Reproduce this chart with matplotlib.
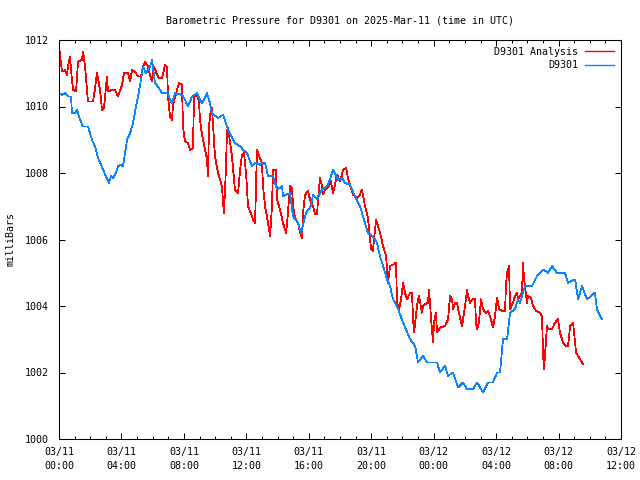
import matplotlib
matplotlib.use('Agg')
import matplotlib.pyplot as plt
from matplotlib.ticker import MultipleLocator

# hours since 2025-03-11 00:00 UTC and pressure in mb
obs_h = [0.00, 0.19, 0.38, 0.58, 0.77, 0.83, 1.02, 1.15, 1.35, 1.54, 1.86, 2.11, 2.31, 2.50, 2.82,
         3.01, 3.20, 3.33, 3.46, 3.65, 3.78, 3.97, 4.10, 4.23, 4.36, 4.55, 4.74, 4.93, 5.06, 5.25,
         5.38, 5.57, 5.70, 5.83, 5.96, 6.15, 6.34, 6.60, 6.98, 7.11, 7.24, 7.43, 7.88, 8.07, 8.26,
         8.52, 8.84, 9.16, 9.48, 9.67, 9.80, 10.19, 10.51, 10.83, 11.27, 11.60, 11.79, 12.04, 12.36,
         12.56, 12.88, 13.20, 13.39, 13.71, 13.97, 14.29, 14.35, 14.80, 14.99, 15.31, 15.50, 15.82,
         16.14, 16.27, 16.53, 16.85, 17.17, 17.36, 17.55, 17.87, 18.13, 18.32, 18.64, 18.96, 19.28,
         19.60, 19.79, 20.11, 20.37, 20.56, 20.76, 21.01, 21.20, 21.40, 21.65, 22.04, 22.49, 22.81,
         23.00, 23.32, 23.57, 24.21, 24.41, 24.73, 24.92, 25.24, 25.56, 25.88, 26.14, 26.52, 26.78,
         27.16, 27.48, 27.80, 28.06, 28.25, 28.44, 28.70, 28.89, 29.21, 29.40, 29.53, 29.85, 30.30,
         30.62, 31.01, 31.33, 31.58, 31.90, 32.41, 32.61, 33.06, 33.25, 33.50, 33.82, 34.33, 34.46,
         34.78]
obs_p = [1010.4, 1010.35, 1010.4, 1010.3, 1010.3, 1009.8, 1009.8, 1009.9, 1009.6, 1009.4, 1009.4,
         1009.0, 1008.8, 1008.45, 1008.1, 1007.9, 1007.7, 1007.9, 1007.85, 1008.0, 1008.2, 1008.25,
         1008.2, 1008.6, 1009.0, 1009.2, 1009.5, 1010.0, 1010.3, 1010.8, 1011.2, 1011.0, 1011.1,
         1011.2, 1011.4, 1010.7, 1010.6, 1010.4, 1010.4, 1010.2, 1010.1, 1010.4, 1010.35, 1010.2,
         1010.0, 1010.3, 1010.4, 1010.1, 1010.4, 1010.1, 1009.8, 1009.65, 1009.75, 1009.3, 1008.9,
         1008.8, 1008.7, 1008.6, 1008.2, 1008.3, 1008.25, 1008.3, 1007.9, 1007.9, 1007.5, 1007.6,
         1007.3, 1007.4, 1006.7, 1006.5, 1006.2, 1006.8, 1007.0, 1007.35, 1007.2, 1007.5, 1007.6,
         1007.8, 1008.1, 1007.8, 1007.85, 1007.7, 1007.65, 1007.3, 1007.0, 1006.5, 1006.2, 1006.1,
         1005.9, 1005.5, 1005.2, 1004.8, 1004.6, 1004.2, 1004.0, 1003.5, 1003.0, 1002.8, 1002.3,
         1002.5, 1002.3, 1002.3, 1002.0, 1002.2, 1001.9, 1002.0, 1001.55, 1001.7, 1001.5, 1001.5,
         1001.7, 1001.4, 1001.7, 1001.7, 1002.0, 1002.0, 1003.0, 1003.0, 1003.8, 1003.9, 1004.2,
         1004.1, 1004.6, 1004.6, 1004.9, 1005.1, 1005.0, 1005.2, 1005.0, 1005.0, 1004.7, 1004.8,
         1004.2, 1004.6, 1004.2, 1004.4, 1003.9, 1003.6]

ana_h = [0.00, 0.06, 0.19, 0.38, 0.51, 0.58, 0.70, 0.83, 0.90, 1.09, 1.22, 1.47, 1.54, 1.67, 1.79,
         1.86, 2.18, 2.31, 2.43, 2.50, 2.63, 2.75, 2.88, 2.95, 3.07, 3.14, 3.40, 3.59, 3.78, 4.04,
         4.16, 4.42, 4.55, 4.68, 4.87, 5.06, 5.25, 5.38, 5.51, 5.70, 5.83, 5.96, 6.09, 6.28, 6.41,
         6.60, 6.79, 6.92, 6.98, 7.11, 7.24, 7.30, 7.56, 7.69, 7.88, 7.94, 8.07, 8.26, 8.39, 8.58,
         8.65, 8.84, 8.97, 9.03, 9.16, 9.35, 9.48, 9.54, 9.61, 9.74, 9.80, 9.87, 9.99, 10.19, 10.44,
         10.51, 10.57, 10.70, 10.76, 10.83, 11.08, 11.27, 11.47, 11.60, 11.72, 11.85, 11.98, 12.11,
         12.24, 12.43, 12.56, 12.68, 12.75, 13.00, 13.07, 13.20, 13.39, 13.52, 13.64, 13.71, 13.90,
         13.97, 14.16, 14.35, 14.54, 14.61, 14.80, 14.93, 14.99, 15.12, 15.31, 15.44, 15.57, 15.63,
         15.76, 15.95, 16.08, 16.27, 16.40, 16.53, 16.59, 16.72, 16.85, 16.91, 17.04, 17.30, 17.42,
         17.55, 17.68, 17.81, 18.00, 18.13, 18.19, 18.39, 18.51, 18.64, 18.83, 19.09, 19.22, 19.41,
         19.60, 19.79, 19.99, 20.11, 20.18, 20.31, 20.37, 20.56, 20.76, 20.95, 21.08, 21.20, 21.40,
         21.59, 21.65, 21.78, 21.91, 22.04, 22.16, 22.29, 22.49, 22.61, 22.68, 22.74, 22.93, 23.06,
         23.25, 23.32, 23.45, 23.64, 23.70, 23.83, 23.96, 24.02, 24.15, 24.21, 24.41, 24.73, 24.92,
         25.05, 25.18, 25.24, 25.37, 25.50, 25.56, 25.69, 25.82, 25.88, 26.01, 26.14, 26.20, 26.33,
         26.46, 26.65, 26.71, 26.78, 26.90, 27.03, 27.16, 27.35, 27.48, 27.67, 27.80, 27.93, 28.06,
         28.19, 28.38, 28.57, 28.63, 28.70, 28.83, 28.89, 29.08, 29.21, 29.34, 29.40, 29.66, 29.72,
         29.79, 29.98, 30.04, 30.24, 30.36, 30.56, 30.81, 30.94, 31.01, 31.07, 31.20, 31.26, 31.33,
         31.58, 31.77, 31.97, 32.09, 32.29, 32.48, 32.61, 32.74, 32.93, 33.12, 33.25, 33.50, 33.57]
ana_p = [1011.9, 1011.55, 1011.05, 1011.1, 1010.95, 1011.2, 1011.5, 1010.8, 1010.5, 1010.45,
         1011.35, 1011.4, 1011.65, 1011.2, 1010.5, 1010.15, 1010.15, 1010.55, 1011.0, 1010.85,
         1010.5, 1009.9, 1009.95, 1010.3, 1010.9, 1010.45, 1010.5, 1010.5, 1010.3, 1010.65, 1011.0,
         1011.0, 1010.75, 1011.1, 1011.05, 1010.9, 1010.9, 1011.2, 1011.35, 1011.2, 1010.95,
         1010.75, 1011.2, 1010.95, 1010.85, 1010.85, 1011.25, 1011.2, 1010.3, 1009.7, 1009.6,
         1010.05, 1010.5, 1010.7, 1010.65, 1009.4, 1008.95, 1008.9, 1008.7, 1008.75, 1010.3,
         1010.35, 1010.15, 1009.6, 1009.15, 1008.7, 1008.4, 1007.9, 1009.4, 1010.0, 1009.95,
         1009.4, 1008.5, 1008.0, 1007.6, 1007.1, 1006.8, 1008.2, 1009.3, 1009.35, 1008.5, 1007.5,
         1007.4, 1008.1, 1008.55, 1008.6, 1008.0, 1007.0, 1006.85, 1006.6, 1006.5, 1008.7, 1008.6,
         1008.3, 1007.6, 1007.0, 1006.5, 1006.1, 1007.0, 1008.1, 1008.1, 1007.2, 1006.9, 1006.5,
         1006.2, 1006.5, 1007.6, 1007.55, 1007.0, 1006.65, 1006.5, 1006.2, 1006.05, 1006.8,
         1007.35, 1007.45, 1007.2, 1007.0, 1006.75, 1006.75, 1007.2, 1007.85, 1007.6, 1007.35,
         1007.5, 1007.6, 1007.75, 1007.4, 1007.65, 1007.95, 1007.75, 1007.95, 1008.1, 1008.15,
         1007.85, 1007.65, 1007.35, 1007.25, 1007.3, 1007.5, 1007.0, 1006.65, 1005.7, 1005.65,
         1006.0, 1006.6, 1006.5, 1006.2, 1005.8, 1005.5, 1004.7, 1005.2, 1005.25, 1005.3, 1004.1,
         1003.9, 1004.2, 1004.7, 1004.4, 1004.2, 1004.4, 1004.4, 1003.6, 1003.2, 1004.0, 1004.3,
         1003.8, 1004.0, 1004.05, 1004.1, 1004.5, 1003.65, 1002.9, 1003.5, 1003.8, 1003.2, 1003.35,
         1003.4, 1003.6, 1004.3, 1004.2, 1003.9, 1004.1, 1004.1, 1003.9, 1003.65, 1003.4, 1003.6,
         1004.0, 1004.5, 1004.3, 1004.1, 1004.2, 1004.2, 1003.5, 1003.3, 1003.5, 1004.2, 1003.9,
         1003.8, 1003.85, 1003.6, 1003.35, 1003.7, 1004.25, 1003.9, 1003.85, 1003.85, 1004.6,
         1005.0, 1005.2, 1003.9, 1004.1, 1004.3, 1004.4, 1004.2, 1004.4, 1005.3, 1004.8, 1004.1,
         1004.3, 1004.25, 1004.0, 1003.85, 1003.8, 1003.7, 1002.5, 1002.1, 1003.0, 1003.4, 1003.3,
         1003.3, 1003.5, 1003.6, 1003.2, 1002.9, 1002.8, 1002.8, 1003.4, 1003.5, 1002.6, 1002.5,
         1002.3, 1002.25]

xticks = [0, 4, 8, 12, 16, 20, 24, 28, 32, 36]
xlabels = ['03/11\n00:00', '03/11\n04:00', '03/11\n08:00', '03/11\n12:00', '03/11\n16:00',
           '03/11\n20:00', '03/12\n00:00', '03/12\n04:00', '03/12\n08:00', '03/12\n12:00']

plt.rcParams['font.family'] = 'DejaVu Sans Mono'
plt.rcParams['font.size'] = 7.2

fig = plt.figure(figsize=(6.4, 4.8), dpi=100)
ax = fig.add_axes([59/640, 1 - 439/480, 562/640, 399/480])

ax.plot(ana_h, ana_p, color='#ff0000', lw=0.55, label='D9301 Analysis', antialiased=False)
ax.plot(obs_h, obs_p, color='#0a84ff', lw=0.55, label='D9301', antialiased=False)

ax.set_xlim(0, 36)
ax.set_ylim(1000, 1012)
ax.set_xticks(xticks)
ax.set_xticklabels(xlabels, linespacing=1.45)
ax.xaxis.set_minor_locator(MultipleLocator(1))
ax.yaxis.set_major_locator(MultipleLocator(2))

ax.tick_params(which='both', direction='in', top=True, right=True, width=0.75)
ax.tick_params(which='major', length=4)
ax.tick_params(which='minor', length=2.5)
ax.tick_params(axis='x', pad=6)
ax.tick_params(axis='y', pad=7)
for s in ax.spines.values():
    s.set_linewidth(0.75)

ax.set_ylabel('milliBars', labelpad=7)
ax.set_title('Barometric Pressure for D9301 on 2025-Mar-11 (time in UTC)', fontsize=7.2, pad=12)

leg = ax.legend(loc='upper right', frameon=False, markerfirst=False, handlelength=2.9,
                handletextpad=0.7, labelspacing=0.35, borderpad=0.3, borderaxespad=0.4)
for h in leg.legend_handles:
    h.set_linewidth(1.0)
    h.set_antialiased(True)

fig.savefig('out.png', dpi=100)
